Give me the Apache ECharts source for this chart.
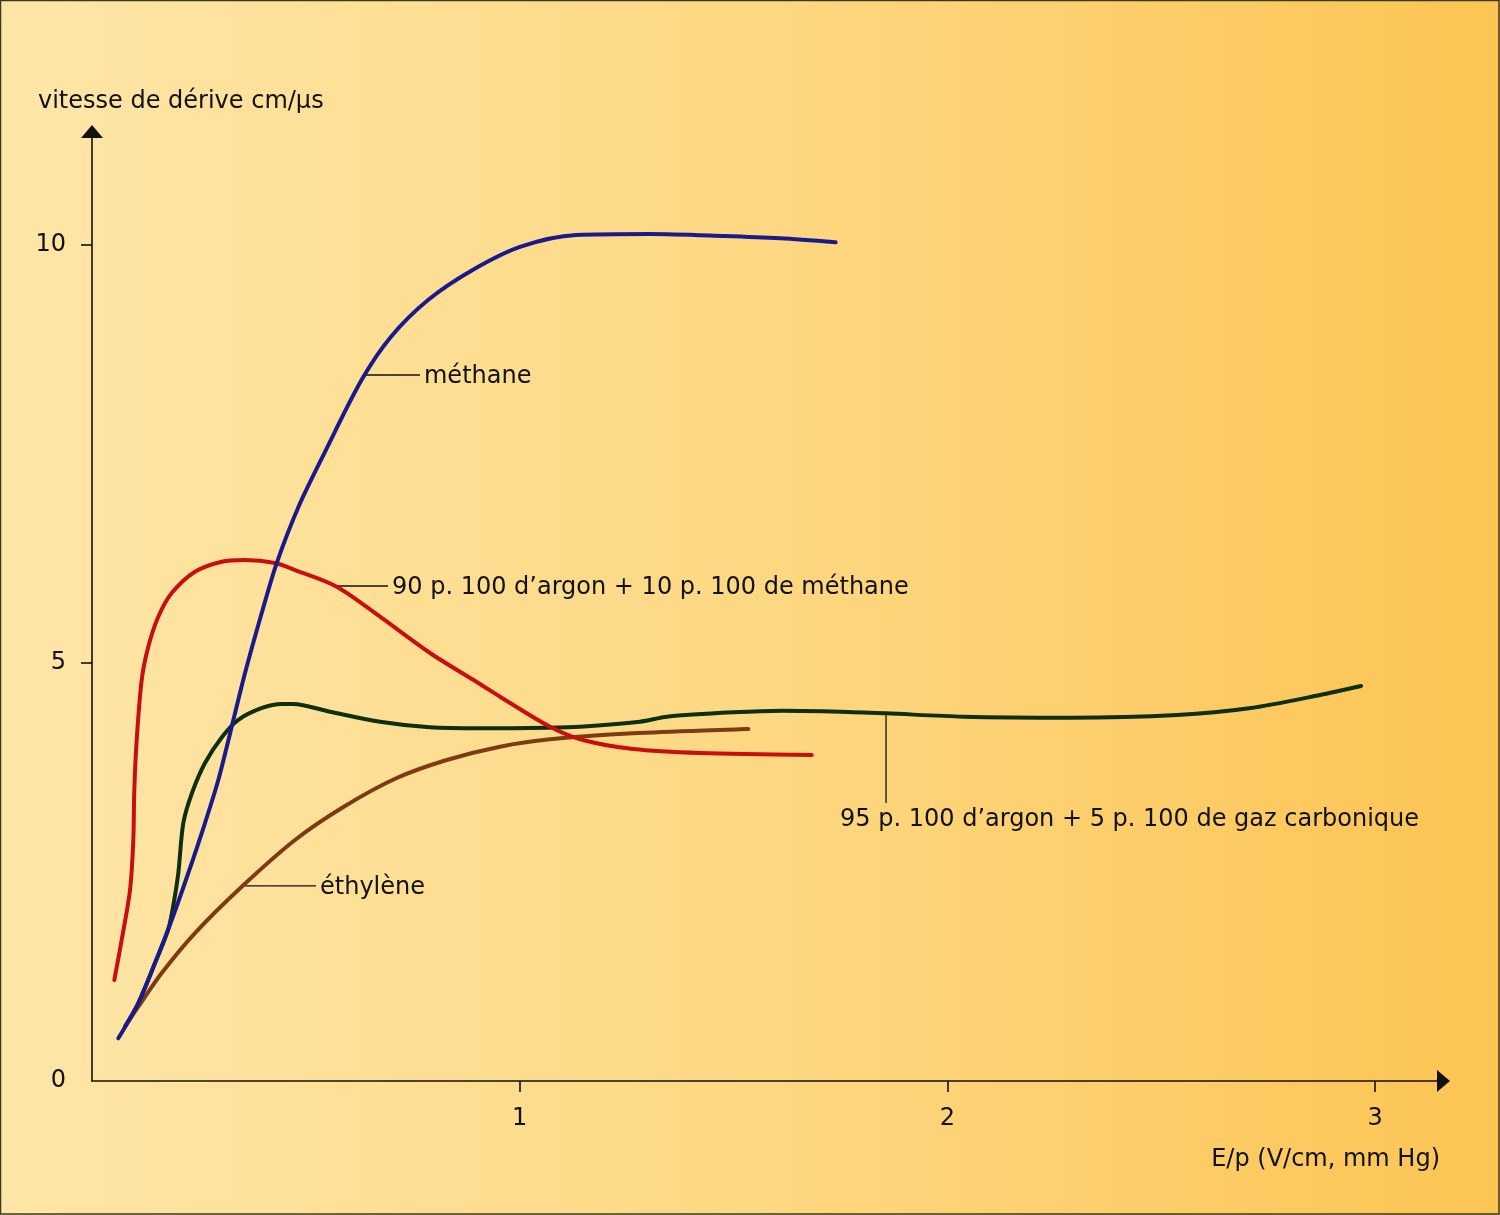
<!DOCTYPE html>
<html><head><meta charset="utf-8">
<script src="https://cdn.jsdelivr.net/npm/echarts@6/dist/echarts.min.js"></script>
<style>html,body{margin:0;padding:0;overflow:hidden;}#c{width:1500px;height:1215px;}</style>
</head><body><div id="c"></div><script>
// E/p (V/cm, mm Hg) vs drift velocity (cm/µs)
const methane = [[0.0615,0.511],[0.1083,0.933],[0.1473,1.411],[0.1864,1.926],[0.2252,2.488],[0.2642,3.086],[0.2953,3.600],[0.3267,4.238],[0.3578,4.880],[0.3968,5.598],[0.4319,6.196],[0.4829,6.870],[0.5434,7.512],[0.6302,8.385],[0.6991,8.903],[0.7857,9.342],[0.8899,9.701],[1.0024,9.980],[1.1317,10.120],[1.3048,10.132],[1.4778,10.108],[1.6087,10.080],[1.7387,10.032]];
const argonMethane = [[0.0521,1.208],[0.0694,1.687],[0.0889,2.285],[0.0966,2.883],[0.0989,3.481],[0.1045,4.079],[0.1162,4.797],[0.1316,5.195],[0.1550,5.554],[0.1864,5.837],[0.2408,6.092],[0.3033,6.212],[0.3578,6.232],[0.4279,6.196],[0.4747,6.112],[0.5722,5.913],[0.6734,5.554],[0.7903,5.120],[0.9072,4.749],[0.9540,4.597],[1.0709,4.238],[1.1481,4.079],[1.2650,3.971],[1.4217,3.923],[1.6829,3.900]];
const argonCO2 = [[0.0772,0.652],[0.1083,0.933],[0.1473,1.411],[0.1777,1.806],[0.1894,2.081],[0.2018,2.488],[0.2135,3.086],[0.2338,3.445],[0.2642,3.804],[0.3040,4.115],[0.3414,4.318],[0.3975,4.462],[0.4443,4.510],[0.4700,4.510],[0.5565,4.418],[0.6734,4.298],[0.7903,4.231],[0.9072,4.219],[1.0616,4.226],[1.1411,4.238],[1.2814,4.298],[1.3445,4.358],[1.4988,4.410],[1.6157,4.429],[1.7490,4.418],[1.8566,4.398],[2.0366,4.358],[2.2868,4.346],[2.5370,4.378],[2.7053,4.458],[2.8714,4.617],[2.9673,4.725]];
const ethylene = [[0.0772,0.652],[0.1083,0.889],[0.1630,1.292],[0.2408,1.770],[0.3500,2.324],[0.4747,2.883],[0.5916,3.289],[0.7125,3.624],[0.8294,3.840],[0.9540,3.999],[1.0709,4.087],[1.2650,4.159],[1.5346,4.211]];
const xTicks = [1, 2, 3];
const yTicks = [0, 5, 10];
const annotations = [
  {text: 'méthane', at: [0.6383, 8.445], dir: 'h', len: 55},
  {text: '90 p. 100 d’argon + 10 p. 100 de méthane', at: [0.5705, 5.921], dir: 'h', len: 52},
  {text: 'éthylène', at: [0.3578, 2.333], dir: 'h', len: 71},
  {text: '95 p. 100 d’argon + 5 p. 100 de gaz carbonique', at: [1.8566, 4.402], dir: 'v', len: 90}
];
const FONT = '"DejaVu Sans", sans-serif';
const chart = echarts.init(document.getElementById('c'), null, {renderer: 'canvas'});
function line(name, data, color) {
  return {name, type: 'line', data, showSymbol: false, smooth: 0.3, silent: true,
    lineStyle: {color, width: 4, cap: 'round', join: 'round'}};
}
chart.setOption({
  animation: false,
  backgroundColor: {type: 'linear', x: 0, y: 0, x2: 1, y2: 0,
    colorStops: [{offset: 0, color: '#FEE6A8'}, {offset: 0.5, color: '#FDD883'}, {offset: 1, color: '#FCC453'}]},
  grid: {left: 92, right: 56.5, top: 131.5, bottom: 134, containLabel: false},
  xAxis: {type: 'value', min: 0, max: 3.160, interval: 1,
    axisLine: {show: true, symbol: ['none', 'triangle'], symbolSize: [22, 13], lineStyle: {color: '#111', width: 1.6}},
    axisTick: {show: true, length: 11, customValues: xTicks, lineStyle: {color: '#111', width: 1.6}},
    axisLabel: {customValues: xTicks, margin: 26, color: '#111', fontSize: 24, fontFamily: FONT},
    splitLine: {show: false}},
  yAxis: {type: 'value', min: 0, max: 11.358, interval: 5,
    axisLine: {show: true, symbol: ['none', 'triangle'], symbolSize: [22, 13], lineStyle: {color: '#111', width: 1.6}},
    axisTick: {show: true, length: 11, customValues: [5, 10], lineStyle: {color: '#111', width: 1.6}},
    axisLabel: {customValues: yTicks, margin: 26, color: '#111', fontSize: 24, fontFamily: FONT},
    splitLine: {show: false}},
  series: [
    line('éthylène', ethylene, '#7E3A12'),
    line('95 p. 100 d’argon + 5 p. 100 de gaz carbonique', argonCO2, '#0E2F0E'),
    line('90 p. 100 d’argon + 10 p. 100 de méthane', argonMethane, '#C80E0E'),
    line('méthane', methane, '#1B1A8C')
  ]
});
const g = [
  {type: 'rect', shape: {x: 0.5, y: 0.5, width: 1498.5, height: 1213.5}, style: {fill: 'none', stroke: '#3a3a1c', lineWidth: 1.5}, silent: true},
  {type: 'text', x: 38, y: 102, style: {text: 'vitesse de dérive cm/µs', font: '24px ' + FONT, fill: '#111', textVerticalAlign: 'middle', textAlign: 'left'}},
  {type: 'text', x: 1440, y: 1160, style: {text: 'E/p (V/cm, mm Hg)', font: '24px ' + FONT, fill: '#111', textVerticalAlign: 'middle', textAlign: 'right'}}
];
annotations.forEach(a => {
  const p = chart.convertToPixel({gridIndex: 0}, a.at);
  if (a.dir === 'h') {
    g.push({type: 'line', shape: {x1: p[0], y1: p[1], x2: p[0] + a.len, y2: p[1]}, style: {stroke: '#111', lineWidth: 1.3}});
    g.push({type: 'text', x: p[0] + a.len + 4, y: p[1] + 2, style: {text: a.text, font: '24px ' + FONT, fill: '#111', textVerticalAlign: 'middle', textAlign: 'left'}});
  } else {
    g.push({type: 'line', shape: {x1: p[0], y1: p[1], x2: p[0], y2: p[1] + a.len}, style: {stroke: '#111', lineWidth: 1.3}});
    g.push({type: 'text', x: p[0] - 46, y: p[1] + a.len + 17, style: {text: a.text, font: '24px ' + FONT, fill: '#111', textVerticalAlign: 'middle', textAlign: 'left'}});
  }
});
chart.setOption({graphic: g});
</script></body></html>
